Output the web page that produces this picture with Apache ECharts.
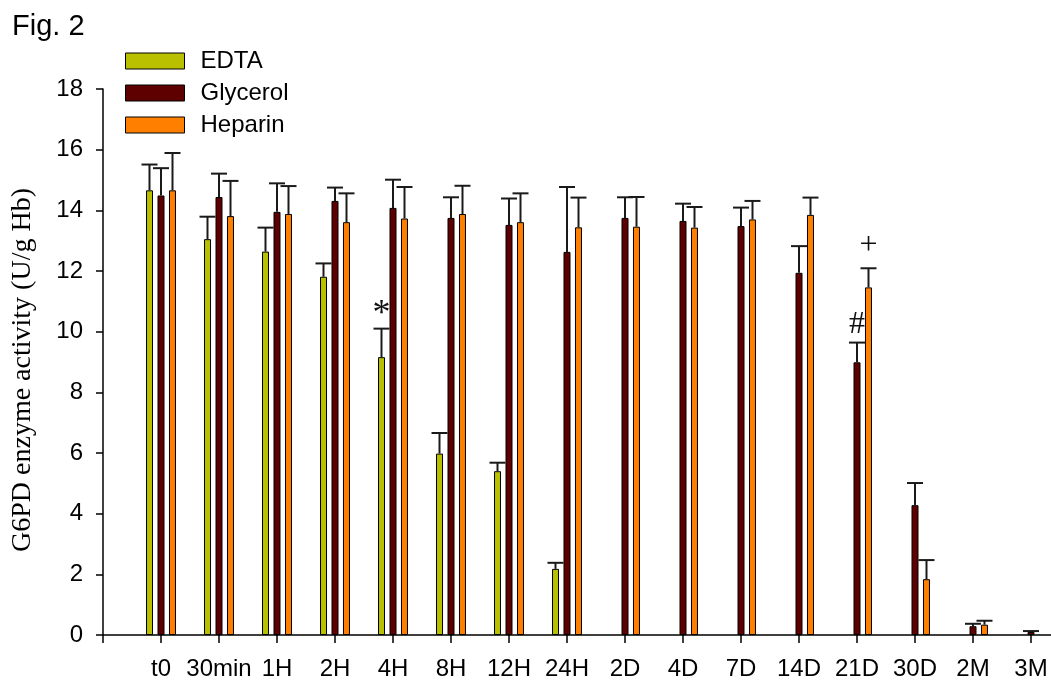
<!DOCTYPE html>
<html lang="en">
<head>
<meta charset="utf-8">
<title>Fig. 2</title>
<script src="https://cdn.jsdelivr.net/npm/echarts@6.0.0/dist/echarts.min.js"></script>
<style>
  html, body { margin: 0; padding: 0; background: #fff; }
  #chart { width: 1051px; height: 683px; }
</style>
</head>
<body>
<div id="chart"></div>
<script>
  // sampling times
  const timePoints = ['t0', '30min', '1H', '2H', '4H', '8H', '12H', '24H', '2D', '4D', '7D', '14D', '21D', '30D', '2M', '3M'];

  // G6PD activity (U/g Hb), mean and upper error
  const edta    = [14.66, 13.05, 12.64, 11.81, 9.16, 5.98, 5.40, 2.18, null, null, null, null, null, null, null, null];
  const edtaErr = [0.85, 0.74, 0.79, 0.44, 0.94, 0.68, 0.28, 0.20, null, null, null, null, null, null, null, null];
  const glycerol    = [14.49, 14.44, 13.95, 14.31, 14.08, 13.75, 13.52, 12.63, 13.75, 13.65, 13.48, 11.94, 8.99, 4.28, 0.29, 0.10];
  const glycerolErr = [0.90, 0.77, 0.94, 0.44, 0.93, 0.68, 0.87, 2.14, 0.68, 0.57, 0.61, 0.88, 0.65, 0.73, 0.08, 0.03];
  const heparin    = [14.66, 13.81, 13.88, 13.61, 13.73, 13.88, 13.61, 13.44, 13.46, 13.43, 13.70, 13.85, 11.46, 1.84, 0.34, null];
  const heparinErr = [1.23, 1.16, 0.92, 0.95, 1.04, 0.93, 0.95, 0.98, 0.98, 0.68, 0.61, 0.57, 0.63, 0.63, 0.13, null];

  // significance marks: [time point, series, y position, symbol]
  const marks = [
    ['4H', 0, 10.55, '*'],
    ['21D', 1, 10.22, '#'],
    ['21D', 2, 12.84, '+']
  ];

  const colors = ['#b9c000', '#5e0000', '#ff8000'];
  const offsets = [-11.5, 0, 11.5];

  // pad the axis with an empty slot on each side
  const axisCats = [''].concat(timePoints, ['']);
  const pad = arr => [null].concat(arr, [null]);

  function errData(mean, err) {
    const out = [];
    mean.forEach((m, i) => {
      if (m != null && err[i] != null) out.push([i + 1, m, m + err[i]]);
    });
    return out;
  }

  function errorBars(offset) {
    return function (params, api) {
      const base = api.coord([api.value(0), api.value(1)]);
      const top = api.coord([api.value(0), api.value(2)]);
      const x = base[0] + offset;
      const style = { stroke: '#1a1a1a', lineWidth: 2 };
      return {
        type: 'group',
        children: [
          { type: 'line', shape: { x1: x, y1: base[1], x2: x, y2: top[1] }, style: style },
          { type: 'line', shape: { x1: x - 8, y1: top[1], x2: x + 8, y2: top[1] }, style: style }
        ]
      };
    };
  }

  const names = ['EDTA', 'Glycerol', 'Heparin'];
  const means = [edta, glycerol, heparin];
  const errs = [edtaErr, glycerolErr, heparinErr];

  const series = [];
  names.forEach((n, k) => {
    series.push({
      name: n,
      type: 'bar',
      data: pad(means[k]),
      barWidth: 7,
      barGap: '64%',
      itemStyle: { color: colors[k], borderColor: '#000', borderWidth: 1 },
      z: 2
    });
  });
  names.forEach((n, k) => {
    series.push({
      type: 'custom',
      renderItem: errorBars(offsets[k]),
      data: errData(means[k], errs[k]),
      encode: { x: 0, y: [1, 2] },
      z: 3,
      silent: true
    });
  });
  series.push({
    type: 'custom',
    data: marks.map(m => [timePoints.indexOf(m[0]) + 1, m[2], m[1]]),
    encode: { x: 0, y: 1 },
    z: 4,
    silent: true,
    renderItem: function (params, api) {
      const p = api.coord([api.value(0), api.value(1)]);
      const k = api.value(2);
      const sym = marks[params.dataIndex][3];
      const size = sym === '*' ? 36 : 32;
      return {
        type: 'text',
        style: {
          x: p[0] + offsets[k], y: p[1],
          text: sym,
          fill: '#111',
          font: size + 'px "Liberation Serif"',
          align: 'center', verticalAlign: 'middle',
          textAlign: 'center', textVerticalAlign: 'middle'
        }
      };
    }
  });

  const chart = echarts.init(document.getElementById('chart'));
  chart.setOption({
    animation: false,
    textStyle: { fontFamily: 'Liberation Sans', color: '#000' },
    title: {
      text: 'Fig. 2',
      left: 12, top: 12, padding: 0,
      textStyle: { fontSize: 29, fontWeight: 'normal', color: '#000', fontFamily: 'Liberation Sans' }
    },
    legend: {
      data: names,
      orient: 'vertical',
      left: 125, top: 49, padding: 0,
      itemWidth: 59, itemHeight: 16, itemGap: 8,
      icon: 'rect',
      itemStyle: { borderColor: '#000', borderWidth: 1 },
      textStyle: { fontSize: 24, color: '#000', fontFamily: 'Liberation Sans', padding: [0, 0, 0, 11] }
    },
    grid: { left: 103, right: -38, top: 89, bottom: 48, containLabel: false, outerBoundsMode: 'none' },
    xAxis: {
      type: 'category',
      data: axisCats,
      boundaryGap: false,
      axisLine: { lineStyle: { color: '#000', width: 1.5 } },
      axisTick: { length: 8, interval: 0, lineStyle: { color: '#000', width: 1.5 } },
      axisLabel: { interval: 0, margin: 22, fontSize: 24, color: '#000', fontFamily: 'Liberation Sans', hideOverlap: false },
      splitLine: { show: false }
    },
    yAxis: {
      type: 'value',
      min: 0, max: 18, interval: 2,
      name: 'G6PD enzyme activity (U/g Hb)',
      nameLocation: 'middle',
      nameGap: 66,
      nameTextStyle: { fontFamily: 'Liberation Serif', fontSize: 28, color: '#000', padding: [0, 16, 0, 0] },
      axisLine: { show: true, lineStyle: { color: '#000', width: 1.5 } },
      axisTick: { show: true, length: 7, lineStyle: { color: '#000', width: 1.5 } },
      axisLabel: { margin: 20, fontSize: 24, color: '#000', fontFamily: 'Liberation Sans' },
      splitLine: { show: false }
    },
    series: series
  });
</script>
</body>
</html>
